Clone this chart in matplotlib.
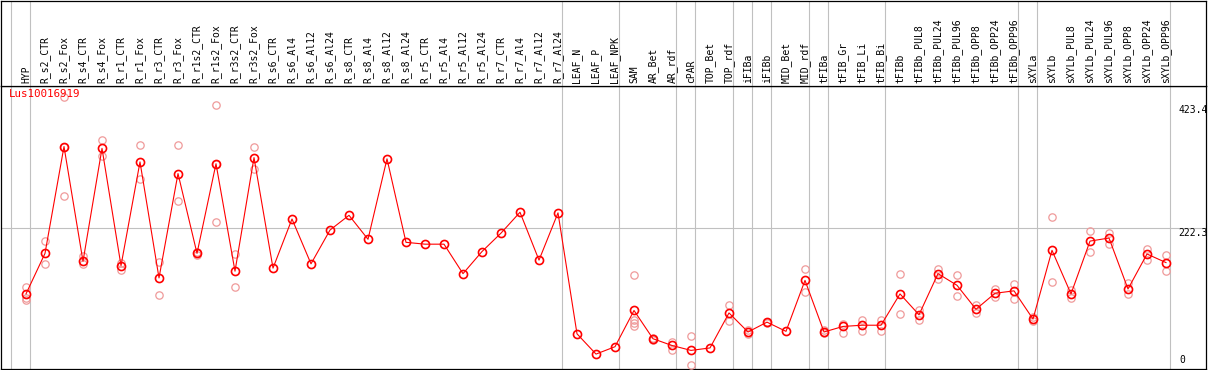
import matplotlib
matplotlib.use("Agg")
from matplotlib import pyplot as plt

# Expression profile: Lus10016919

samples = ["HYP", "R_s2_CTR", "R_s2_Fox", "R_s4_CTR", "R_s4_Fox", "R_r1_CTR", "R_r1_Fox",
           "R_r3_CTR", "R_r3_Fox", "R_r1s2_CTR", "R_r1s2_Fox", "R_r3s2_CTR", "R_r3s2_Fox",
           "R_s6_CTR", "R_s6_Al4", "R_s6_Al12", "R_s6_Al24", "R_s8_CTR", "R_s8_Al4",
           "R_s8_Al12", "R_s8_Al24", "R_r5_CTR", "R_r5_Al4", "R_r5_Al12", "R_r5_Al24",
           "R_r7_CTR", "R_r7_Al4", "R_r7_Al12", "R_r7_Al24", "LEAF_N", "LEAF_P", "LEAF_NPK",
           "SAM", "AR_Bet", "AR_rdf", "cPAR", "TOP_Bet", "TOP_rdf", "iFIBa", "iFIBb",
           "MID_Bet", "MID_rdf", "tFIBa", "tFIB_Gr", "tFIB_Li", "tFIB_Bi", "tFIBb",
           "tFIBb_PUL8", "tFIBb_PUL24", "tFIBb_PUL96", "tFIBb_OPP8", "tFIBb_OPP24",
           "tFIBb_OPP96", "sXYLa", "sXYLb", "sXYLb_PUL8", "sXYLb_PUL24", "sXYLb_PUL96",
           "sXYLb_OPP8", "sXYLb_OPP24", "sXYLb_OPP96"]

means = [115, 181, 355, 168, 352, 161, 330, 141, 311, 181, 327, 152, 337,
         157, 237, 164, 219, 243, 204, 335, 199, 196, 196, 148, 184, 214, 248, 170, 247,
         50, 17, 29, 88, 42, 31, 23, 27, 84, 53, 69, 54, 137, 53, 62, 64, 64,
         115, 81, 148, 129, 90, 116, 120, 74, 186, 115, 201, 206, 123, 180, 166]

# replicate values (empty where only the mean is shown)
replicates = [[126, 108, 105], [201, 164], [435, 275, 355], [176, 163], [365, 340],
              [166, 154], [357, 302], [167, 113], [357, 266], [183, 179], [422, 232, 327],
              [180, 126], [355, 319],
              [], [], [], [], [], [], [], [], [], [], [], [], [], [], [], [],
              [], [], [], [145, 73, 68, 63], [44, 40], [36, 23], [46, 0], [],
              [97, 71], [57, 49], [70, 68], [], [155, 118], [57, 51], [66, 52], [73, 55],
              [72, 55], [147, 82], [88, 73], [156, 140], [146, 112], [97, 84], [123, 110],
              [131, 107], [78, 71], [240, 134], [122, 108], [217, 183], [215, 197],
              [133, 115], [188, 171], [179, 152]]

# last sample index of each group (grey separators)
group_ends = [-1, 0, 28, 31, 34, 35, 37, 38, 39, 41, 42, 45, 52, 53, 60]

y_top_label = 423.4
y_mid_label = 222.3

W, H = 1209, 370
fig = plt.figure(figsize=(W / 100, H / 100), dpi=100)

x_left = (0.5 - 26) / 19
x_right = (1206 - 26) / 19

ax = fig.add_axes([0.5 / W, 1 / H, 1205.5 / W, 283 / H])
head = fig.add_axes([0.5 / W, 284 / H, 1205.5 / W, 85.5 / H])

pale = "#ef9a9a"
x = list(range(len(samples)))

# replicates
for i, vals in enumerate(replicates):
    if vals:
        ax.plot([i] * len(vals), vals, linestyle="none", marker="o", ms=5.3,
                mfc="none", mec=pale, mew=0.9, zorder=3)

# mean line
ax.plot(x, means, color="red", lw=0.8, marker="o", ms=5.8, mfc="none",
        mec="red", mew=1.2, zorder=4)

# grid lines
for g in group_ends:
    ax.axvline(g + 0.23, color="#c0c0c0", lw=0.8, zorder=1)
    head.axvline(g + 0.23, color="#c0c0c0", lw=0.8, zorder=1)
ax.axhline(y_mid_label, color="#c0c0c0", lw=0.8, zorder=1)

ax.set_xlim(x_left, x_right)
ax.set_ylim(-7.3, 453.6)
ax.set_xticks([])
ax.set_yticks([])

# value labels on the right
lx = (1178.5 - 26) / 19
ax.text(lx, y_top_label, "423.4", family="DejaVu Sans Mono", fontsize=7, va="top", ha="left")
ax.text(lx, y_mid_label, "222.3", family="DejaVu Sans Mono", fontsize=7, va="top", ha="left")
ax.text(lx + 0.05, 0, "0", family="DejaVu Sans Mono", fontsize=7, va="bottom", ha="left")

# gene name
ax.text((9 - 26) / 19, 448, "Lus10016919", color="red", family="DejaVu Sans Mono",
        fontsize=7.8, va="top", ha="left")

# sample labels
head.set_xlim(x_left, x_right)
head.set_ylim(0, 1)
head.set_xticks([])
head.set_yticks([])
for i, name in enumerate(samples):
    head.text(i, 3 / 85.5, name, rotation=90, ha="center", va="bottom",
              family="DejaVu Sans Mono", fontsize=7)

for a in (ax, head):
    for s in a.spines.values():
        s.set_color("black")
        s.set_linewidth(0.9)

fig.savefig("out.png", dpi=100)
